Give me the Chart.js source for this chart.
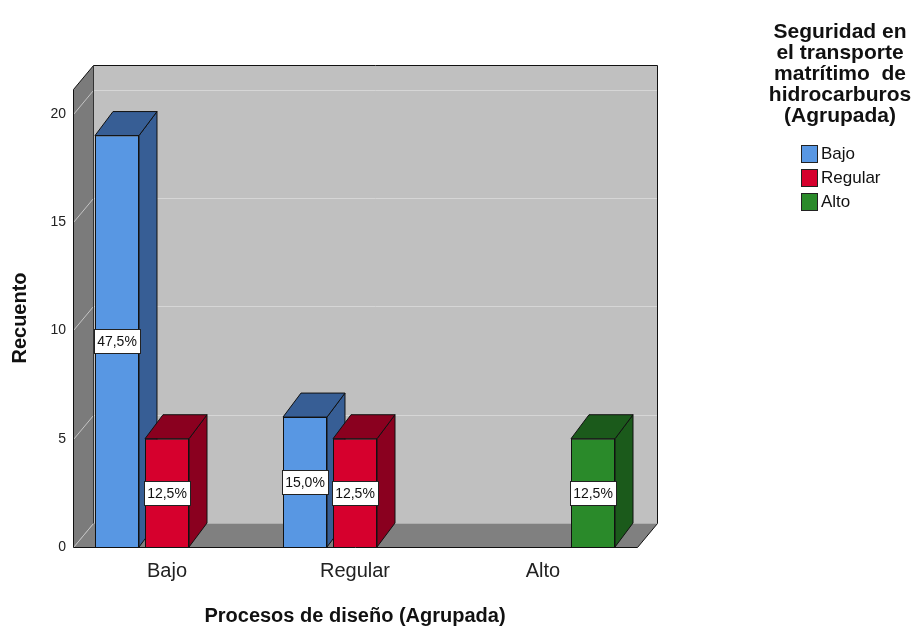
<!DOCTYPE html>
<html>
<head>
<meta charset="utf-8">
<script src="https://cdn.jsdelivr.net/npm/chart.js@4.4.0/dist/chart.umd.min.js"></script>
<style>
  body { margin: 0; background: #fff; }
  canvas { display: block; }
</style>
</head>
<body>
<canvas id="bar-chart" width="916" height="628"></canvas>
<script>
/*
 * Counts per group, one array per series
 */
const categories = ['Bajo', 'Regular', 'Alto']
const seriesNames = ['Bajo', 'Regular', 'Alto']
const countBajo = [19, 6, null]
const countRegular = [5, 5, null]
const countAlto = [null, null, 5]
const yTickStep = 5
const yMax = 21.15
const legendTitle = ['Seguridad en', 'el transporte', 'matrítimo  de', 'hidrocarburos', '(Agrupada)']

const frontColors = ['#5897e3', '#d6002d', '#2a8a2a']
const shadeColors = ['#375e95', '#8a001f', '#1b5a1b']

const total = [...countBajo, ...countRegular, ...countAlto].reduce((a, b) => a + (b || 0), 0)
const percentLabel = v => (v / total * 100).toFixed(1).replace('.', ',') + '%'

// depth of the box walls and of the bars
const WALL_DX = 20, WALL_DY = 24
const BAR_DX = 18, BAR_DY = 24
const FONT = '"Liberation Sans", Arial, sans-serif'

const poly = (ctx, pts, fill, stroke) => {
	ctx.beginPath()
	pts.forEach(([x, y], i) => i ? ctx.lineTo(x, y) : ctx.moveTo(x, y))
	ctx.closePath()
	if (fill) {
		ctx.fillStyle = fill
		ctx.fill()
	}
	if (stroke) {
		ctx.strokeStyle = stroke
		ctx.lineWidth = 1
		ctx.stroke()
	}
}

const line = (ctx, x1, y1, x2, y2, color) => {
	ctx.beginPath()
	ctx.moveTo(x1, y1)
	ctx.lineTo(x2, y2)
	ctx.strokeStyle = color
	ctx.lineWidth = 1
	ctx.stroke()
}

/*
 * Walls, floor and the top/side faces of every bar
 */
const box3d = {
	id: 'box3d',
	beforeDatasetsDraw(chart) {
		const {ctx, chartArea: a, scales: {y}} = chart
		const L = a.left + 0.5, R = a.right + 0.5, T = a.top + 0.5, B = a.bottom + 0.5
		ctx.save()

		// back wall
		ctx.fillStyle = '#c0c0c0'
		ctx.fillRect(L + WALL_DX, T - WALL_DY, R - L, B - T)
		// floor
		poly(ctx, [[L, B], [L + WALL_DX, B - WALL_DY], [R + WALL_DX, B - WALL_DY], [R, B]], '#808080')
		// left wall
		poly(ctx, [[L, T], [L + WALL_DX, T - WALL_DY], [L + WALL_DX, B - WALL_DY], [L, B]], '#7b7b7b')

		// grid lines, on the back wall and running across the left wall
		y.ticks.forEach(t => {
			const py = Math.round(y.getPixelForValue(t.value)) + 0.5
			if (t.value > 0) line(ctx, L + WALL_DX, py - WALL_DY, R + WALL_DX, py - WALL_DY, '#d6d6d6')
			line(ctx, L, py, L + WALL_DX, py - WALL_DY, '#c4c4c4')
		})

		// box edges
		line(ctx, L, T, L, B, '#111')
		line(ctx, L, T, L + WALL_DX, T - WALL_DY, '#111')
		line(ctx, L + WALL_DX, T - WALL_DY, R + WALL_DX, T - WALL_DY, '#111')
		line(ctx, L + WALL_DX, T - WALL_DY, L + WALL_DX, B - WALL_DY, '#333')
		line(ctx, R + WALL_DX, T - WALL_DY, R + WALL_DX, B - WALL_DY, '#111')
		line(ctx, R + WALL_DX, B - WALL_DY, R, B, '#111')
		line(ctx, L, B, R, B, '#111')

		// top and side of each bar, left to right so nearer bars cover the sides
		const bars = []
		chart.data.datasets.forEach((ds, i) => {
			chart.getDatasetMeta(i).data.forEach((el, j) => {
				if (ds.data[j] == null) return
				bars.push({el, i})
			})
		})
		bars.sort((p, q) => p.el.x - q.el.x)
		bars.forEach(({el, i}) => {
			const {x, y: top, base, width} = el.getProps(['x', 'y', 'base', 'width'], true)
			const bl = x - width / 2, br = x + width / 2
			poly(ctx, [[br, top], [br + BAR_DX, top - BAR_DY], [br + BAR_DX, base - BAR_DY], [br, base]], shadeColors[i], '#111')
			poly(ctx, [[bl, top], [bl + BAR_DX, top - BAR_DY], [br + BAR_DX, top - BAR_DY], [br, top]], shadeColors[i], '#111')
		})
		ctx.restore()
	},
	afterDatasetsDraw(chart) {
		const {ctx} = chart
		ctx.save()
		ctx.font = '14px ' + FONT
		ctx.textAlign = 'center'
		ctx.textBaseline = 'middle'
		chart.data.datasets.forEach((ds, i) => {
			chart.getDatasetMeta(i).data.forEach((el, j) => {
				const v = ds.data[j]
				if (v == null) return
				const {x, y, base} = el.getProps(['x', 'y', 'base'], true)
				const cy = Math.round((y + base) / 2)
				const bx = Math.round(x - 23) + 0.5, by = cy - 12 + 0.5
				ctx.fillStyle = '#fff'
				ctx.fillRect(bx, by, 46, 24)
				ctx.strokeStyle = '#222'
				ctx.lineWidth = 1
				ctx.strokeRect(bx, by, 46, 24)
				ctx.fillStyle = '#111'
				ctx.fillText(percentLabel(v), x, cy + 1)
			})
		})
		ctx.restore()
	},
	afterDraw(chart) {
		const {ctx} = chart
		ctx.save()
		// legend title
		ctx.fillStyle = '#111'
		ctx.font = 'bold 21px ' + FONT
		ctx.textAlign = 'center'
		ctx.textBaseline = 'alphabetic'
		legendTitle.forEach((t, k) => ctx.fillText(t, 840, 38 + k * 21))
		// legend items
		ctx.font = '17px ' + FONT
		ctx.textAlign = 'left'
		ctx.textBaseline = 'middle'
		chart.data.datasets.forEach((ds, i) => {
			const top = 145 + i * 24
			ctx.fillStyle = ds.backgroundColor
			ctx.fillRect(801.5, top + 0.5, 16, 17)
			ctx.strokeStyle = '#222'
			ctx.strokeRect(801.5, top + 0.5, 16, 17)
			ctx.fillStyle = '#111'
			ctx.fillText(ds.label, 821, top + 9)
		})
		ctx.restore()
	}
}

const barCtx = document.getElementById('bar-chart').getContext('2d')

const barChart = new Chart(barCtx, {
	type: 'bar',
	data: {
		labels: categories,
		datasets: [countBajo, countRegular, countAlto].map((data, i) => ({
			label: seriesNames[i],
			data: data,
			backgroundColor: frontColors[i],
			borderColor: '#111',
			borderWidth: 1,
			categoryPercentage: 0.798,
			barPercentage: 0.88
		}))
	},
	options: {
		responsive: false,
		animation: false,
		layout: {
			padding: {left: 0, top: 89, right: 279, bottom: 0}
		},
		plugins: {
			legend: {display: false},
			tooltip: {enabled: false}
		},
		scales: {
			x: {
				grid: {display: false, drawTicks: false},
				border: {display: false},
				ticks: {
					color: '#222',
					padding: 12,
					font: {family: FONT, size: 20}
				},
				title: {
					display: true,
					text: 'Procesos de diseño (Agrupada)',
					color: '#111',
					padding: {top: 0, bottom: 0},
					font: {family: FONT, size: 20, weight: 'bold'}
				},
				afterFit: scale => { scale.height = 81 }
			},
			y: {
				min: 0,
				max: yMax,
				grid: {display: false, drawTicks: false},
				border: {display: false},
				ticks: {
					stepSize: yTickStep,
					includeBounds: false,
					color: '#222',
					padding: 7,
					font: {family: FONT, size: 14}
				},
				title: {
					display: true,
					text: 'Recuento',
					color: '#111',
					padding: {top: 8, bottom: 0},
					font: {family: FONT, size: 20, weight: 'bold'}
				},
				afterFit: scale => { scale.width = 73 }
			}
		}
	},
	plugins: [box3d]
})
</script>
</body>
</html>
